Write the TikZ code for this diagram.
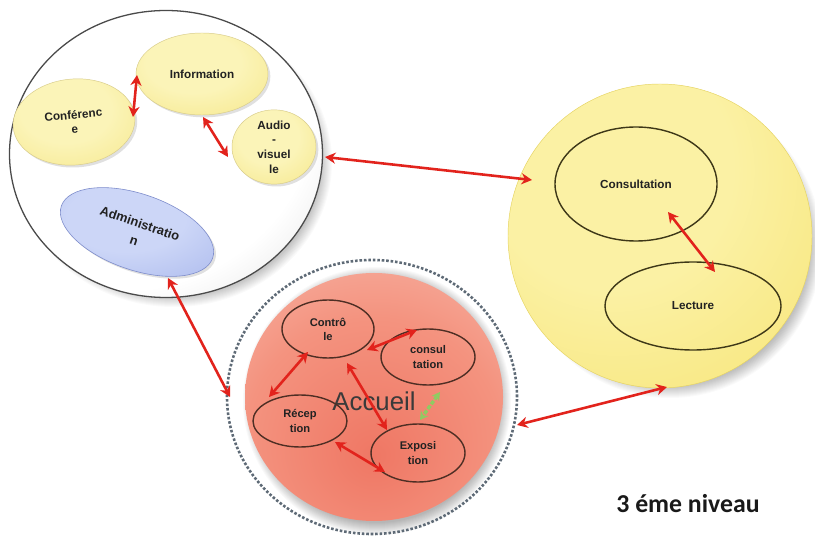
\documentclass[tikz,border=0pt]{standalone}
\usepackage{fontspec}
\setmainfont{Liberation Sans}
\newfontfamily\carlito{Carlito}
\usetikzlibrary{arrows.meta,shapes.geometric,shadows}
\definecolor{arrred}{HTML}{E2231C}
\definecolor{yA}{HTML}{FBF4B8}
\definecolor{yB}{HTML}{F3E070}
\definecolor{yline}{HTML}{D8CC8A}
\definecolor{YA}{HTML}{FBF1A4}
\definecolor{YB}{HTML}{F5DF62}
\definecolor{Yline}{HTML}{E6D462}
\definecolor{bA}{HTML}{CCD6F7}
\definecolor{bB}{HTML}{9CACE8}
\definecolor{bline}{HTML}{7D8CCB}
\definecolor{pA}{HTML}{EF7764}
\definecolor{pB}{HTML}{F4937F}
\definecolor{pC}{HTML}{FAD0C7}
\definecolor{brownline}{HTML}{4E2E24}
\definecolor{oliveline}{HTML}{3E3818}
\definecolor{dotcol}{HTML}{5E6A76}
\definecolor{circline}{HTML}{4A4A4A}
\definecolor{txt}{HTML}{222222}
\definecolor{acctxt}{HTML}{3A3A3A}
\definecolor{grn}{HTML}{8FCB62}
\newcommand\pxu{0.03cm}
\pgfdeclareradialshading{shL}{\pgfpoint{-12bp}{12bp}}{color(0bp)=(white); color(32bp)=(white); color(56bp)=(black!22); color(100bp)=(black!22)}
\pgfdeclareradialshading{shy}{\pgfpoint{-4bp}{8bp}}{color(0bp)=(yA); color(18bp)=(yA); color(55bp)=(yB); color(100bp)=(yB)}
\pgfdeclareradialshading{shY}{\pgfpoint{-10bp}{14bp}}{color(0bp)=(YA); color(20bp)=(YA); color(58bp)=(YB); color(100bp)=(YB)}
\pgfdeclareradialshading{shb}{\pgfpoint{-4bp}{8bp}}{color(0bp)=(bA); color(18bp)=(bA); color(55bp)=(bB); color(100bp)=(bB)}
\pgfdeclareradialshading{shp}{\pgfpoint{0bp}{-12bp}}{color(0bp)=(pA); color(25bp)=(pB); color(58bp)=(pC); color(100bp)=(pC)}
\begin{document}
\begin{tikzpicture}[x=0.03cm,y=-0.03cm,
  lbl/.style={font=\bfseries\fontsize{10}{12.5}\selectfont, text=txt, align=center},
  yel/.style={ellipse, inner sep=0pt, shading=shy, draw=yline, line width=0.4pt,
    drop shadow={shadow xshift=2pt, shadow yshift=-2pt, fill=black, opacity=0.12}},
  inel/.style={ellipse, inner sep=0pt, draw=brownline, line width=1.2pt},
  olel/.style={ellipse, inner sep=0pt, draw=oliveline, line width=1.2pt},
  arr/.style={draw=arrred, line width=2.2pt, {Stealth[length=9pt,width=9.5pt]}-{Stealth[length=9pt,width=9.5pt]}},
  garr/.style={draw=grn, line width=3pt, dash pattern=on 3.5pt off 1.5pt, {Stealth[length=7pt,width=8pt]}-{Stealth[length=7pt,width=8pt]}}
]
\useasboundingbox (0,0) rectangle (815,542);
\fill[white] (0,0) rectangle (815,542);

% soft shadows
\foreach \i in {0,...,14} \fill[black, opacity=0.02] (670,246) circle[radius=138+\i];
\foreach \i in {0,...,12} \fill[black, opacity=0.02] (174,162) ellipse[x radius=146+\i, y radius=133+\i];
\foreach \i in {0,...,12} \fill[black, opacity=0.025] (377,401) circle[radius=122+\i];

% big containers
\node[ellipse, inner sep=0pt, minimum width=313*\pxu, minimum height=287*\pxu,
      shading=shL, draw=circline, line width=1.1pt] (bigL) at (166,154) {};
\node[circle, inner sep=0pt, minimum size=304*\pxu, shading=shY, draw=Yline, line width=0.4pt] (yelc) at (660,236) {};
\node[ellipse, inner sep=0pt, minimum width=290*\pxu, minimum height=274*\pxu,
      draw=dotcol, line width=2.2pt, dash pattern=on 2.2pt off 1.6pt] (dot) at (372,397) {};
\node[ellipse, inner sep=0pt, minimum width=258*\pxu, minimum height=248*\pxu, shading=shp] (acc) at (374,397) {};

% left circle content
\node[yel, lbl, minimum width=132*\pxu, minimum height=82*\pxu] (info) at (202,74) {Information};
\node[yel, lbl, minimum width=122*\pxu, minimum height=86*\pxu, rotate=5] (conf) at (74,122) {Conférenc\\e};
\node[yel, lbl, minimum width=84*\pxu, minimum height=66*\pxu] (audio) at (274,147) {Audio\\-\\visuel\\le};
\node[ellipse, inner sep=0pt, shading=shb, draw=bline, line width=0.5pt,
      drop shadow={shadow xshift=2pt, shadow yshift=-2pt, fill=black, opacity=0.12},
      lbl, font=\bfseries\fontsize{11}{15.5}\selectfont,
      minimum width=160*\pxu, minimum height=76*\pxu, rotate=-19] (admin) at (137,232) {Administratio\\n};

% right circle content
\node[olel, lbl, minimum width=162*\pxu, minimum height=114*\pxu] (cons) at (636,184) {Consultation};
\node[olel, lbl, minimum width=176*\pxu, minimum height=88*\pxu] (lect) at (693,306) {Lecture};

% accueil content
\node[font=\fontsize{22}{24}\selectfont, text=acctxt] (acclbl) at (374,401) {Accueil};
\node[inel, lbl, font=\bfseries\fontsize{9.5}{12}\selectfont, minimum width=92*\pxu, minimum height=58*\pxu] (ctrl) at (328,329) {Contrô\\le};
\node[inel, lbl, font=\bfseries\fontsize{9.5}{12}\selectfont, minimum width=94*\pxu, minimum height=56*\pxu] (cons2) at (428,357) {consul\\tation};
\node[inel, lbl, font=\bfseries\fontsize{9.5}{12}\selectfont, minimum width=94*\pxu, minimum height=52*\pxu] (rec) at (300,421) {Récep\\tion};
\node[inel, lbl, font=\bfseries\fontsize{9.5}{12}\selectfont, minimum width=94*\pxu, minimum height=58*\pxu] (expo) at (418,453) {Exposi\\tion};

% level label
\node[font=\carlito\bfseries\fontsize{22}{24}\selectfont, text=black!90] (lvl) at (688,504) {3 éme niveau};

% connectors
\draw[arr] ([shift={(59,-5)}]conf.center) -- ([shift={(-65,1)}]info.center);
\draw[arr] ([shift={(1,43)}]info.center) -- ([shift={(-46,10)}]audio.center);
\draw[arr] ([shift={(159,3)}]bigL.center) -- ([shift={(-128,-56)}]yelc.center);
\draw[arr] ([shift={(31,46)}]admin.center) -- ([shift={(-142,0)}]dot.center);
\draw[arr] ([shift={(145,28)}]dot.center) -- ([shift={(7,151)}]yelc.center);
\draw[arr] ([shift={(32,28)}]cons.center) -- ([shift={(22,-34)}]lect.center);
\draw[arr] ([shift={(-20,23)}]ctrl.center) -- ([shift={(-31,-24)}]rec.center);
\draw[arr] ([shift={(39,21)}]ctrl.center) -- ([shift={(-11,-27)}]cons2.center);
\draw[arr] ([shift={(19,34)}]ctrl.center) -- ([shift={(-31,-23)}]expo.center);
\draw[arr] ([shift={(35,21)}]rec.center) -- ([shift={(-33,19)}]expo.center);
\draw[garr] ([shift={(12,35)}]cons2.center) -- ([shift={(2,-33)}]expo.center);
\end{tikzpicture}
\end{document}
